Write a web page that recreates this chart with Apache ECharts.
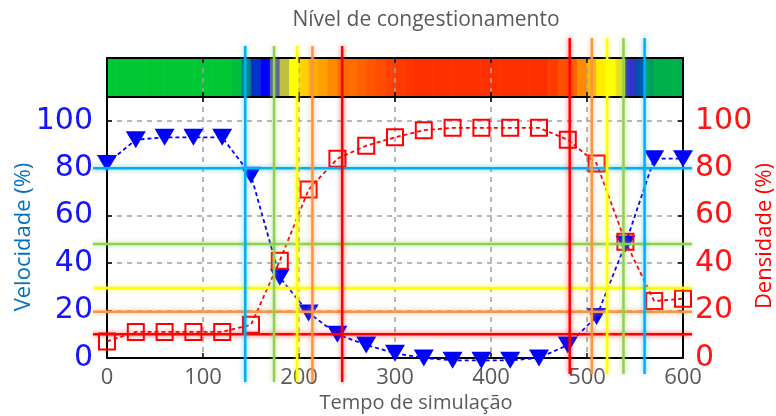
<!DOCTYPE html>
<html>
<head>
<meta charset="utf-8">
<script src="https://cdn.jsdelivr.net/npm/echarts@6/dist/echarts.min.js"></script>
<style>
  html, body { margin: 0; padding: 0; background: #fff; }
  #chart { width: 776px; height: 416px; }
</style>
</head>
<body>
<div id="chart"></div>
<script>
// Simulation time samples (s)
const times = [0, 30, 60, 90, 120, 150, 180, 210, 240, 270, 300, 330, 360, 390, 420, 450, 480, 510, 540, 570, 600];
// Velocity (%) – left axis
const velocity = [82, 92, 93, 93, 93, 77, 34, 19, 10, 5.5, 2, 0, -1, -1, -1, 0, 5.5, 17.5, 48, 84, 84];
// Density (%) – right axis
const density = [7, 11, 11, 11, 11, 14, 41, 71, 84, 89.5, 93, 96, 97, 97, 97, 97, 92, 82, 49, 24, 25];

// Congestion strip: cell centres (s) and congestion level (0 free flow .. 4 jammed)
const stripCenters = [5, 15, 25, 35, 45, 55, 65, 75, 85, 95, 105, 115, 125, 135, 145, 155, 165, 175, 185, 195,
  205, 215, 225, 235, 245, 255, 265, 275, 285, 295, 305, 315, 325, 335, 345, 355, 365, 375, 385, 395,
  405, 415, 425, 435, 445, 455, 465, 475, 485, 495, 505, 515, 525, 535, 545, 555, 565, 575, 585, 595];
const stripLevels = [0, 0, 0, 0, 0, 0, 0, 0, 0, 0, 0, 0, 0, 0.05, 0.35, 0.75, 1.0, 1.35, 1.75, 2.0,
  2.5, 2.8, 3.0, 3.2, 3.35, 3.45, 3.55, 3.65, 3.75, 3.85, 3.9, 3.95, 4, 4, 4, 4, 4, 4, 4, 4,
  4, 4, 4, 4, 4, 4, 3.9, 3.7, 3.5, 3.2, 2.7, 2.2, 2.0, 1.9, 1.2, 0.6, 0.2, 0.12, 0.12, 0.12];
const levelColors = ['#00c832', '#0000ff', '#ffff00', '#ffa000', '#ff3000'];

// Threshold levels (%) and the instants where the transitions happen (s)
const thresholdLevels = [80, 48, 29.5, 19.5, 10];
const riseTimes = [144, 174, 198, 214, 245];
const fallTimes = [560, 538, 521, 505, 482];
const thresholdColors = ['#00b0f0', '#92d050', '#ffff00', '#f79646', '#ff0000'];

function halo(hex, a) {
  const n = parseInt(hex.slice(1), 16);
  return 'rgba(' + (n >> 16) + ',' + ((n >> 8) & 255) + ',' + (n & 255) + ',' + a + ')';
}

const chart = echarts.init(document.getElementById('chart'), null, { renderer: 'canvas' });

const black = { show: true, onZero: false, lineStyle: { color: '#000', width: 2 } };
const tickIn = { show: true, inside: true, length: 5, lineStyle: { color: '#000', width: 1.5 } };
const dashed = { show: true, lineStyle: { color: '#a0a0a0', width: 1.5, type: [5, 5] } };
const none = { show: false };

const series = [
  {
    type: 'heatmap', xAxisIndex: 0, yAxisIndex: 0, z: 1,
    data: stripLevels.map((v, i) => [i, 0, v])
  },
  {
    name: 'Velocidade', type: 'line', xAxisIndex: 3, yAxisIndex: 3, z: 4, clip: false,
    data: times.map((t, i) => [t, velocity[i]]),
    symbol: 'triangle', symbolRotate: 180, symbolSize: [20, 17],
    itemStyle: { color: '#0000ff' },
    lineStyle: { color: '#0000ff', width: 1.8, type: [4, 3] }
  },
  {
    name: 'Densidade', type: 'line', xAxisIndex: 3, yAxisIndex: 4, z: 4, clip: false,
    data: times.map((t, i) => [t, density[i]]),
    symbol: 'rect', symbolSize: 16,
    itemStyle: { color: 'rgba(255,255,255,0)', borderColor: '#ff0000', borderWidth: 2 },
    lineStyle: { color: '#ff0000', width: 1.8, type: [4, 3] }
  }
];

function refLine(data, xi, yi, color, z) {
  return {
    type: 'line', xAxisIndex: xi, yAxisIndex: yi, z: z, silent: true, clip: false,
    data: data, symbol: 'none',
    lineStyle: { color: color, width: 2.5, shadowBlur: 5, shadowColor: halo(color, 0.7) }
  };
}
thresholdLevels.forEach((v, i) => series.push(refLine([[0, v], [1, v]], 5, 5, thresholdColors[i], 10)));
riseTimes.forEach((t, i) => series.push(refLine([[t, 0], [t, 1]], 6, 6, thresholdColors[i], 11)));
fallTimes.forEach((t, i) => series.push(refLine([[t, 0], [t, 1]], 7, 7, thresholdColors[i], 11)));

const option = {
  animation: false,
  backgroundColor: '#ffffff',
  grid: [
    { left: 107, right: 93, top: 58, height: 39 },   // congestion strip
    { left: 107, right: 93, top: 97, bottom: 58 },   // main plot
    { left: 93, right: 84, top: 97, bottom: 58 },    // horizontal thresholds
    { left: 107, right: 93, top: 46, bottom: 34 },   // onset transitions
    { left: 107, right: 93, top: 38, bottom: 42 }    // recovery transitions
  ],
  visualMap: {
    type: 'continuous', show: false, seriesIndex: 0, dimension: 2,
    min: 0, max: 4, inRange: { color: levelColors }
  },
  xAxis: [
    { type: 'category', gridIndex: 0, data: stripCenters, show: false },
    { type: 'value', gridIndex: 0, position: 'top', min: 0, max: 600, interval: 100, z: 5,
      axisLine: black, axisTick: tickIn, axisLabel: none, splitLine: dashed },
    { type: 'value', gridIndex: 0, position: 'bottom', min: 0, max: 600, interval: 100, z: 5,
      axisLine: black, axisTick: tickIn, axisLabel: none, splitLine: none },
    { type: 'value', gridIndex: 1, position: 'bottom', min: 0, max: 600, interval: 100, z: 3,
      axisLine: black, axisTick: tickIn, splitLine: dashed,
      axisLabel: { color: '#595959', fontSize: 22, fontFamily: 'Open Sans', margin: 9 } },
    { type: 'value', gridIndex: 1, position: 'top', min: 0, max: 600, interval: 100, z: 3,
      axisLine: black, axisTick: tickIn, axisLabel: none, splitLine: none },
    { type: 'value', gridIndex: 2, min: 0, max: 1, show: false },
    { type: 'value', gridIndex: 3, min: 0, max: 600, show: false },
    { type: 'value', gridIndex: 4, min: 0, max: 600, show: false }
  ],
  yAxis: [
    { type: 'category', gridIndex: 0, data: [''], show: false },
    { type: 'value', gridIndex: 0, position: 'left', z: 5,
      axisLine: black, axisTick: none, axisLabel: none, splitLine: none },
    { type: 'value', gridIndex: 0, position: 'right', z: 5,
      axisLine: black, axisTick: none, axisLabel: none, splitLine: none },
    { type: 'value', gridIndex: 1, position: 'left', min: 0, max: 110, interval: 20, z: 3,
      axisLine: black, axisTick: tickIn, splitLine: dashed,
      axisLabel: { color: '#1414ff', fontSize: 30, fontFamily: 'DejaVu Sans', margin: 14,
        formatter: v => (v > 100 ? '' : String(v)) } },
    { type: 'value', gridIndex: 1, position: 'right', min: 0, max: 110, interval: 20, z: 3,
      axisLine: black, axisTick: tickIn, splitLine: none,
      axisLabel: { color: '#ff1414', fontSize: 30, fontFamily: 'DejaVu Sans', margin: 12,
        formatter: v => (v > 100 ? '' : String(v)) } },
    { type: 'value', gridIndex: 2, min: 0, max: 110, show: false },
    { type: 'value', gridIndex: 3, min: 0, max: 1, show: false },
    { type: 'value', gridIndex: 4, min: 0, max: 1, show: false }
  ],
  graphic: [
    { type: 'text', x: 426, y: 20, style: { text: 'Nível de congestionamento', fill: '#595959',
      font: '21px "Open Sans"', align: 'center', verticalAlign: 'middle' } },
    { type: 'text', x: 416, y: 403, style: { text: 'Tempo de simulação', fill: '#595959',
      font: '20px "Open Sans"', align: 'center', verticalAlign: 'middle' } },
    { type: 'text', x: 24, y: 237, rotation: Math.PI / 2, style: { text: 'Velocidade (%)', fill: '#0070c0',
      font: '22px "Open Sans"', align: 'center', verticalAlign: 'middle' } },
    { type: 'text', x: 765, y: 236, rotation: Math.PI / 2, style: { text: 'Densidade (%)', fill: '#ff0000',
      font: '22px "Open Sans"', align: 'center', verticalAlign: 'middle' } }
  ],
  series: series
};

chart.setOption(option);
</script>
</body>
</html>
